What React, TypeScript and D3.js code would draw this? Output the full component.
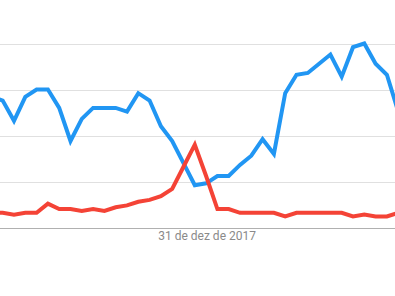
import React from "react";
import * as d3 from "d3";

const weeks: number[] = [-1,0,1,2,3,4,5,6,7,8,9,10,11,12,13,14,15,16,17,18,19,20,21,22,23,24,25,26,27,28,29,30,31,32,33,34,35];
const blueValues: number[] = [71,69,58,71,75,75,65,47,59,65,65,65,63,73,69,55,47,35,23,24,28,28,34,39,48,40,73,83,84,89,94,82,98,100,89,83,63];
const redValues: number[] = [8,8,7,8,8,13,10,10,9,10,9,11,12,14,15,17,21,33,45,28,10,10,8,8,8,8,6,8,8,8,8,8,6,7,6,6,8];
const yTicks: number[] = [0, 25, 50, 75, 100];
const xLabelWeek = 18;
const xLabelText = "31 de dez de 2017";

export default function App() {
  const W = 395, H = 296;
  const x = d3.scaleLinear().domain([-1, 35]).range([-8.6, 398.2]);
  const y = d3.scaleLinear().domain([0, 100]).range([227.5, 43.5]);
  const line = d3.line<number>().x((_, i) => x(weeks[i])).y((d) => y(d));
  return (
    <svg width={W} height={H} style={{ position: "absolute", left: 0, top: 0, background: "#fff" }}>
      {yTicks.map((t) => (
        <line key={t} x1={0} x2={W} y1={Math.round(y(t)) + 0.5} y2={Math.round(y(t)) + 0.5}
          stroke={t === 0 ? "#b0b0b0" : "#e0e0e0"} strokeWidth={1} />
      ))}
      <path d={line(blueValues) || ""} fill="none" stroke="#2196f3" strokeWidth={4} strokeLinejoin="miter" strokeLinecap="butt" />
      <path d={line(redValues) || ""} fill="none" stroke="#f44336" strokeWidth={4} strokeLinejoin="miter" strokeLinecap="butt" />
      <text x={x(xLabelWeek) + 1} y={240} textAnchor="middle" fontFamily="Roboto" fontSize={12} fill="#8a8a8a">{xLabelText}</text>
    </svg>
  );
}
